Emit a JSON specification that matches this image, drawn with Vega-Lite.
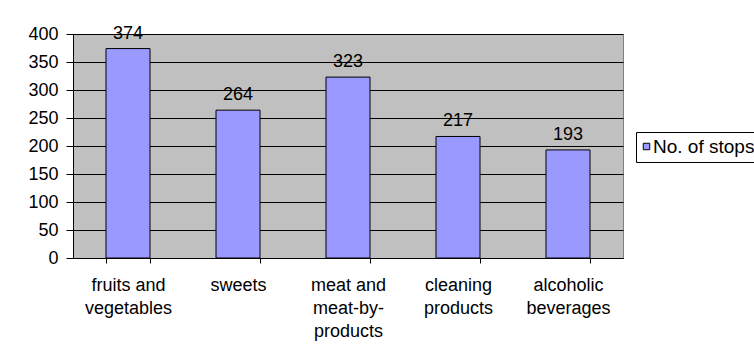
{
  "$schema": "https://vega.github.io/schema/vega-lite/v6.json",
  "width": 550,
  "height": 224,
  "autosize": "none",
  "padding": {"left": 73, "top": 34, "right": 131, "bottom": 98},
  "background": "white",
  "config": {
    "font": "Liberation Sans",
    "view": {"fill": "#C0C0C0", "stroke": "#808080", "strokeWidth": 1}
  },
  "data": {
    "values": [
      {"category": "fruits and vegetables", "stops": 374},
      {"category": "sweets", "stops": 264},
      {"category": "meat and meat-by-products", "stops": 323},
      {"category": "cleaning products", "stops": 217},
      {"category": "alcoholic beverages", "stops": 193}
    ]
  },
  "encoding": {
    "x": {
      "field": "category",
      "type": "nominal",
      "sort": null,
      "scale": {"paddingInner": 0.6, "paddingOuter": 0.3},
      "axis": {
        "title": null,
        "labelAngle": 0,
        "labelFontSize": 18,
        "labelColor": "black",
        "labelFont": "Liberation Sans",
        "labelLineHeight": 23,
        "labelPadding": 13,
        "labelBaseline": "top",
        "domainColor": "black",
        "tickColor": "black",
        "tickSize": 5,
        "tickBand": "extent",
        "labelExpr": "datum.value == 'fruits and vegetables' ? ['fruits and', 'vegetables'] : datum.value == 'meat and meat-by-products' ? ['meat and', 'meat-by-', 'products'] : datum.value == 'cleaning products' ? ['cleaning', 'products'] : datum.value == 'alcoholic beverages' ? ['alcoholic', 'beverages'] : datum.value"
      }
    },
    "y": {
      "field": "stops",
      "type": "quantitative",
      "scale": {"domain": [0, 400]},
      "axis": {
        "title": null,
        "values": [0, 50, 100, 150, 200, 250, 300, 350, 400],
        "grid": true,
        "gridColor": "black",
        "gridOpacity": 1,
        "domainColor": "black",
        "tickColor": "black",
        "tickSize": 7,
        "labelPadding": 8,
        "labelFontSize": 18,
        "labelColor": "black",
        "labelFont": "Liberation Sans"
      }
    }
  },
  "layer": [
    {
      "mark": {"type": "bar", "stroke": "black", "strokeWidth": 1},
      "encoding": {
        "fill": {
          "datum": "No. of stops",
          "type": "nominal",
          "scale": {"range": ["#9999FF"]},
          "legend": {
            "title": null,
            "orient": "none",
            "legendX": 563,
            "legendY": 98,
            "strokeColor": "black",
            "fillColor": "white",
            "padding": 5,
            "symbolType": "square",
            "symbolSize": 42,
            "symbolOffset": -4,
            "symbolStrokeColor": "black",
            "symbolStrokeWidth": 1,
            "symbolOpacity": 1,
            "labelFontSize": 19,
            "labelColor": "black",
            "labelFont": "Liberation Sans",
            "labelOffset": -3
          }
        }
      }
    },
    {
      "mark": {"type": "text", "baseline": "alphabetic", "dy": -10, "fontSize": 18, "color": "black", "font": "Liberation Sans"},
      "encoding": {
        "text": {"field": "stops", "type": "quantitative"}
      }
    }
  ]
}
